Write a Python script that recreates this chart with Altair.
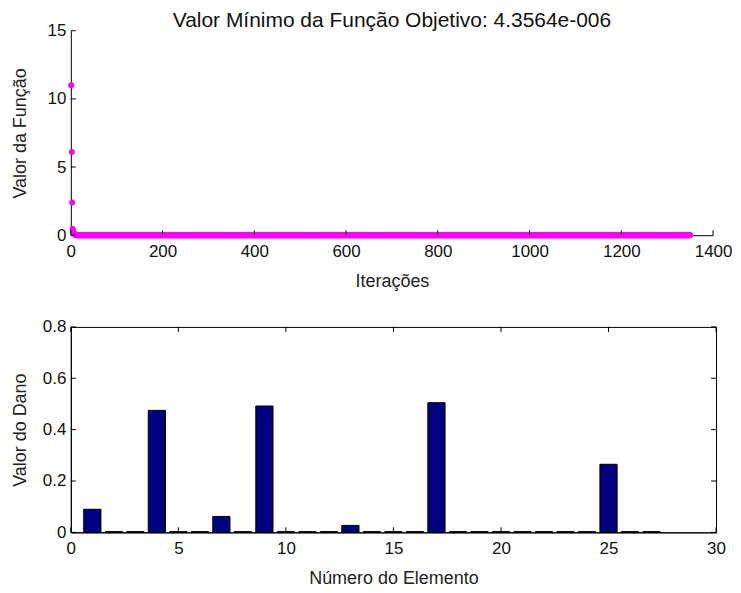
import altair as alt
import pandas as pd

# ---- top panel data: objective function value per iteration ----
head_values = [11.0, 6.1, 2.4, 0.45, 0.3, 0.2, 0.12, 0.08, 0.05, 0.03]
n_iterations = 1350
tail_value = 0.0
func_values = head_values + [tail_value] * (n_iterations - len(head_values))
iterations = list(range(1, n_iterations + 1))

# ---- bottom panel data: damage per element ----
elements = list(range(1, 28))
damage = [0.09, 0.003, 0.003, 0.475, 0.003, 0.003, 0.062, 0.003, 0.492,
          0.003, 0.003, 0.003, 0.027, 0.003, 0.003, 0.003, 0.505, 0.003,
          0.003, 0.003, 0.003, 0.003, 0.003, 0.003, 0.265, 0.003, 0.003]

top_x_ticks = [0, 200, 400, 600, 800, 1000, 1200, 1400]
top_y_ticks = [0, 5, 10, 15]
bot_x_ticks = [0, 5, 10, 15, 20, 25, 30]
bot_y_ticks = [0, 0.2, 0.4, 0.6, 0.8]

FONT = "Liberation Sans"
LFS = 17   # tick labels
TFS = 18   # axis titles
TW, TH = 644, 205
BW, BH = 647, 206
TICK = 5

df_top = pd.DataFrame({"it": iterations, "val": func_values})
df_bot = pd.DataFrame({"el": elements, "dano": damage})


def xaxis(vals, title, fmt):
    return alt.Axis(values=vals, title=title, ticks=False, domain=True, domainColor="black",
                    labelPadding=8, titlePadding=13, grid=False, labelFlush=False,
                    format=fmt)


def yaxis(vals, title, fmt):
    return alt.Axis(values=vals, title=title, ticks=False, domain=True, domainColor="black",
                    labelPadding=5, titlePadding=5, grid=False, minExtent=36, maxExtent=36,
                    labelFlush=False, format=fmt)


xs_top = alt.Scale(domain=[0, 1400], nice=False)
ys_top = alt.Scale(domain=[0, 15], nice=False)

pts = alt.Chart(df_top).mark_point(filled=True, color="#FF00FF", size=36, opacity=1).encode(
    x=alt.X("it:Q", scale=xs_top, axis=xaxis(top_x_ticks, "Iterações", "d")),
    y=alt.Y("val:Q", scale=ys_top, axis=yaxis(top_y_ticks, "Valor da Função", "d")),
)
tx = alt.Chart(pd.DataFrame({"v": top_x_ticks})).mark_rule(color="black").encode(
    x=alt.X("v:Q", scale=xs_top), y=alt.value(TH), y2=alt.value(TH - TICK))
ty = alt.Chart(pd.DataFrame({"v": top_y_ticks})).mark_rule(color="black").encode(
    y=alt.Y("v:Q", scale=ys_top), x=alt.value(0), x2=alt.value(TICK))

top = alt.layer(pts, tx, ty).properties(
    width=TW, height=TH,
    title=alt.TitleParams("Valor Mínimo da Função Objetivo: 4.3564e-006", fontSize=21,
                          fontWeight="normal", font=FONT, color="#111111", offset=-9),
    view=alt.ViewBackground(stroke="transparent"),
)

xs_bot = alt.Scale(domain=[0, 30], nice=False)
ys_bot = alt.Scale(domain=[0, 0.8], nice=False)

bars = alt.Chart(df_bot).transform_calculate(
    x0="datum.el - 0.4", x1="datum.el + 0.4"
).mark_bar(color="#000080", stroke="black", strokeWidth=1).encode(
    x=alt.X("x0:Q", scale=xs_bot, axis=xaxis(bot_x_ticks, "Número do Elemento", "d")),
    x2="x1:Q",
    y=alt.Y("dano:Q", scale=ys_bot, axis=yaxis(bot_y_ticks, "Valor do Dano", ".1~f")),
    y2=alt.datum(0),
)
bxb = alt.Chart(pd.DataFrame({"v": bot_x_ticks})).mark_rule(color="black").encode(
    x=alt.X("v:Q", scale=xs_bot), y=alt.value(BH), y2=alt.value(BH - TICK))
bxt = alt.Chart(pd.DataFrame({"v": bot_x_ticks})).mark_rule(color="black").encode(
    x=alt.X("v:Q", scale=xs_bot), y=alt.value(0), y2=alt.value(TICK))
byl = alt.Chart(pd.DataFrame({"v": bot_y_ticks})).mark_rule(color="black").encode(
    y=alt.Y("v:Q", scale=ys_bot), x=alt.value(0), x2=alt.value(TICK))
byr = alt.Chart(pd.DataFrame({"v": bot_y_ticks})).mark_rule(color="black").encode(
    y=alt.Y("v:Q", scale=ys_bot), x=alt.value(BW), x2=alt.value(BW - TICK))

bottom = alt.layer(bars, bxb, bxt, byl, byr).properties(
    width=BW, height=BH,
    view=alt.ViewBackground(stroke="black", strokeWidth=1),
)

chart = alt.vconcat(top, bottom, spacing=26).properties(
    padding={"left": 3, "top": 0, "right": 0, "bottom": 0},
    background="white",
).configure_axis(
    labelFont=FONT, titleFont=FONT, labelFontSize=LFS, titleFontSize=TFS,
    labelColor="#111111", titleColor="#222222", titleFontWeight="normal",
).configure_view(stroke="transparent")

chart.save("out.html", embed_options={"renderer": "svg", "actions": False})
